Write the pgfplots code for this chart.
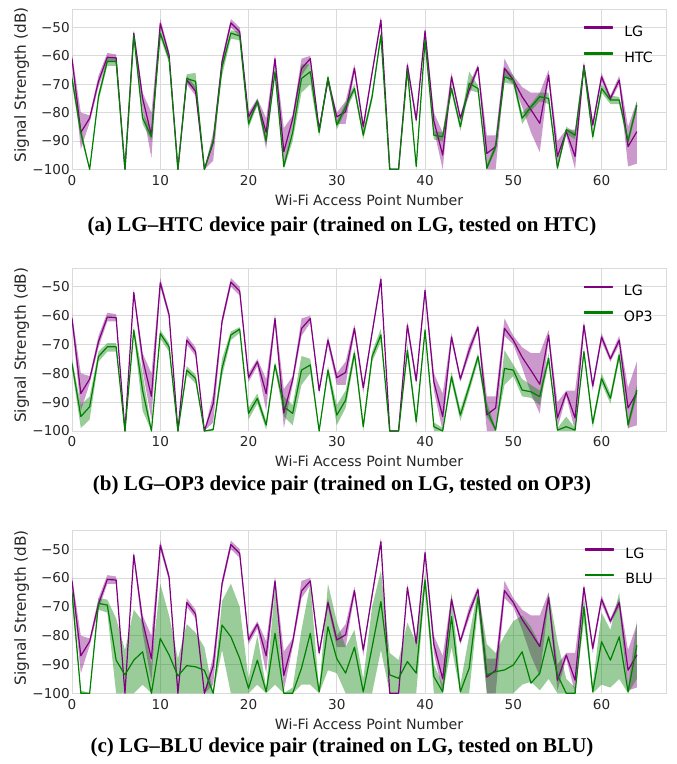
\documentclass[border=0pt]{standalone}
\usepackage{pgfplots}
\usepackage{pgfplotstable}
\pgfplotsset{compat=1.18}
\usepgfplotslibrary{fillbetween}
\usepackage{fontspec}
\setmainfont{DejaVu Sans}
\newfontfamily\capfont{Liberation Serif}
\definecolor{cpurple}{RGB}{128,0,128}
\definecolor{cgreen}{RGB}{0,128,0}
\definecolor{gridc}{RGB}{218,218,218}
\newcommand{\tickfont}{\fontsize{13.6}{16}\selectfont}
\newcommand{\labfont}{\fontsize{14.2}{17}\selectfont}
\newcommand{\ylabfont}{\fontsize{15.3}{18}\selectfont}
\newcommand{\capf}{\capfont\bfseries\fontsize{21}{25}\selectfont}

\pgfplotstableread{
x m u l
0 -61 -59.5 -62.5
1 -87 -80 -93
2 -82 -81 -83.5
3 -69 -67 -71
4 -60.5 -59 -62
5 -60.7 -59.5 -62
6 -100 -100 -100
7 -52 -51 -53
8 -75 -73 -79
9 -88 -80 -96
10 -48.6 -47 -50
11 -59.7 -58.5 -61
12 -100 -100 -100
13 -68.5 -67 -70
14 -72.5 -71 -74
15 -100 -100 -100
16 -90.5 -87 -97
17 -62 -60.5 -63.5
18 -48.4 -47 -50
19 -51.5 -50 -53
20 -81.5 -80 -83
21 -76 -75 -77.5
22 -87 -82 -93
23 -61 -59.5 -62.5
24 -93.8 -85.5 -99
25 -82.2 -81 -84
26 -64.5 -61 -67
27 -61 -60 -62.5
28 -86 -85 -87
29 -68.5 -67 -70
30 -81.5 -80 -84
31 -79.7 -76 -84
32 -64.4 -63 -66
33 -85 -84 -87
34 -66 -65 -67
35 -47.4 -46 -49
36 -100 -100 -100
37 -100 -100 -100
38 -63.3 -62 -65
39 -82.6 -81 -84
40 -51.2 -50 -52.5
41 -83 -80 -86
42 -95 -87 -100
43 -67.4 -66 -69
44 -82 -81 -83
45 -72 -70 -74
46 -64 -63 -65
47 -94.4 -88 -100
48 -92 -88 -100
49 -64.4 -61 -67
50 -68.5 -67 -70
51 -74.4 -71 -78
52 -79 -73 -87
53 -83.8 -73 -94
54 -66.8 -65 -68
55 -95.5 -90 -99
56 -86.7 -86 -88
57 -95.5 -86 -100
58 -63.3 -62 -65
59 -84.4 -83 -86
60 -67.4 -66 -69
61 -75 -74 -76
62 -68.5 -67 -70
63 -92 -85 -99
64 -86.7 -76 -98
}\LGtab

\pgfplotstableread{
x m u l
0 -68 -66 -70
1 -87 -85 -89
2 -100 -100 -100
3 -74.4 -73 -76
4 -62 -60.5 -63.5
5 -62 -60.5 -63.5
6 -100 -100 -100
7 -52.7 -51.5 -54
8 -82 -80 -84
9 -88.5 -86.5 -90
10 -52 -50.5 -53.5
11 -61 -60 -62.5
12 -100 -100 -100
13 -68 -66.5 -69.5
14 -69 -66 -72
15 -100 -100 -100
16 -90 -88.5 -91.5
17 -64 -62 -67
18 -52 -51 -54
19 -53 -51.5 -54.5
20 -84 -82.5 -85.5
21 -76 -75 -77.5
22 -90 -88.5 -91.5
23 -65.6 -64 -67
24 -99 -98 -100
25 -87 -84 -90
26 -68 -63 -73
27 -65.6 -63 -70
28 -87 -85.5 -88.5
29 -67.6 -66.5 -69
30 -84.4 -83 -86
31 -78 -76.5 -79.5
32 -71.5 -70 -73
33 -88 -86.5 -89.5
34 -74.4 -73 -76
35 -52.7 -51.5 -54
36 -100 -100 -100
37 -100 -100 -100
38 -65 -64 -66.5
39 -99 -98 -100
40 -54.5 -53.5 -56
41 -88 -86.5 -89.5
42 -88.5 -87 -90
43 -71.5 -70 -73
44 -85 -83.5 -86.5
45 -69.7 -65.5 -72
46 -71.5 -70.5 -73
47 -99.6 -98.5 -100
48 -92 -90.5 -93.5
49 -67.4 -64 -69.5
50 -68.5 -67 -70
51 -82 -80 -84
52 -78 -77 -79.5
53 -74.4 -73 -76
54 -75 -73 -77
55 -99.6 -98.5 -100
56 -86 -85 -87.5
57 -88 -87 -89.5
58 -64 -63 -65.5
59 -88.5 -87 -90
60 -71.5 -70 -73
61 -75.6 -74 -77
62 -75.6 -74.5 -77
63 -90 -88.5 -91.5
64 -77.4 -76 -79
}\HTCtab

\pgfplotstableread{
x m u l
0 -76.6 -75 -78.5
1 -95 -91 -99
2 -91.6 -88 -96
3 -74.2 -72.5 -76
4 -70.8 -69.5 -72.5
5 -70.8 -69.5 -72.5
6 -100 -100 -100
7 -65 -64 -66.5
8 -86 -80 -93
9 -100 -99 -100
10 -66.2 -65 -68
11 -70.8 -69.5 -72.5
12 -100 -100 -100
13 -78.9 -77.5 -80.5
14 -81.8 -80.5 -83.5
15 -100 -100 -100
16 -99.5 -99 -100
17 -78.3 -75 -81
18 -66.7 -65.5 -68.5
19 -64.7 -64 -66
20 -93.9 -92 -96
21 -88.7 -87 -90.5
22 -97.9 -96.5 -99.5
23 -77.1 -76 -78.5
24 -91.6 -88 -95
25 -93.9 -91 -98
26 -78.9 -74 -84
27 -77.1 -75 -80
28 -100 -99.5 -100
29 -78.9 -77.5 -80.5
30 -94.5 -91 -98
31 -89.3 -86 -92
32 -73 -71.5 -75
33 -98.5 -97 -100
34 -74.2 -72.5 -76
35 -66.7 -64.5 -69
36 -100 -100 -100
37 -100 -100 -100
38 -72 -70 -74
39 -96.8 -95 -98.5
40 -65 -64 -66.5
41 -98.5 -97 -100
42 -100 -99 -100
43 -81.2 -79.5 -83
44 -94.5 -92.5 -96.5
45 -84.6 -83 -86.5
46 -74.2 -73 -76
47 -92.7 -90 -95
48 -99.7 -99 -100
49 -78.3 -72 -84
50 -78.9 -77 -81
51 -85.8 -82 -88
52 -86.4 -84 -88.5
53 -88.1 -86 -91
54 -74.8 -73 -76.5
55 -99.7 -99 -100
56 -98.5 -95 -100
57 -99.7 -99 -100
58 -72.5 -71 -74
59 -97.3 -96 -99
60 -81.8 -80 -83.5
61 -88.7 -87 -90.5
62 -73.7 -72 -75.5
63 -97.9 -96.5 -99.5
64 -85.8 -84 -88
}\OPtab

\pgfplotstableread{
x m u l
0 -65 -62 -68
1 -100 -99 -100
2 -100 -100 -100
3 -68.8 -67 -71
4 -69.4 -67.5 -72
5 -88.5 -74 -100
6 -93.6 -85 -100
7 -88.5 -71 -100
8 -85.6 -75 -97
9 -100 -90 -100
10 -81 -62 -100
11 -86.7 -73 -100
12 -94 -88 -100
13 -90.4 -76 -100
14 -90.8 -79 -100
15 -92 -84 -100
16 -100 -100 -100
17 -76.3 -68 -85
18 -80.4 -62 -100
19 -87.9 -70 -100
20 -98.3 -95 -100
21 -88.5 -80 -97
22 -99.5 -98 -100
23 -79.2 -63 -97
24 -100 -100 -100
25 -100 -98 -100
26 -91.3 -78 -97
27 -79.2 -62 -97
28 -99.5 -99 -100
29 -76.9 -62 -92
30 -88 -75 -93
31 -93 -84 -100
32 -84 -78 -100
33 -99.5 -95 -100
34 -84 -70 -100
35 -68.2 -57.5 -85
36 -93.6 -86 -100
37 -94.8 -88.5 -100
38 -89 -75.5 -100
39 -93 -82.5 -100
40 -60.7 -58 -63
41 -94.2 -90 -100
42 -99.5 -97 -100
43 -73.4 -65 -84
44 -99.5 -97 -100
45 -91.3 -80 -100
46 -66.5 -64 -70
47 -93.6 -83 -100
48 -92.5 -86 -100
49 -91.9 -80 -100
50 -90.2 -75 -100
51 -85.6 -73 -97
52 -96.5 -77 -96
53 -93 -83 -99
54 -80.4 -65 -95
55 -93.6 -82 -100
56 -100 -95 -100
57 -100 -98 -100
58 -70 -66 -75
59 -99.5 -97 -100
60 -82.1 -72 -97
61 -88.5 -78 -98
62 -80.4 -65 -95
63 -99.5 -98 -100
64 -83.3 -75 -95
}\BLUtab

\pgfplotsset{
  panel/.style={
    scale only axis, width=594pt, anchor=north west,
    xmin=0, xmax=67.3, ymin=-100, ymax=-43.6,
    xtick={0,10,20,30,40,50,60},
    xticklabels={0,10,20,30,40,50,60},
    ytick={-100,-90,-80,-70,-60,-50},
    yticklabels={−100,−90,−80,−70,−60,−50},
    grid=major,
    major grid style={color=gridc, line width=0.8pt},
    axis line style={color=gridc, line width=1pt},
    major tick length=0pt,
    tick label style={font=\tickfont, text=black!85},
    xticklabel style={anchor=north, inner sep=0pt, yshift=-5.7pt},
    yticklabel style={anchor=east, inner sep=0pt, xshift=-2pt},
    xlabel={Wi-Fi Access Point Number},
    ylabel={Signal Strength (dB)},
    label style={text=black!85},
    xlabel style={font=\labfont, at={(axis description cs:0.5,0)}, anchor=base, yshift=-35.7pt},
    ylabel style={font=\ylabfont, at={(axis description cs:-0.0847,0.527)}, anchor=center},
    legend cell align=left,
    legend style={draw=none, fill=none, at={(0.978,0.8975)}, anchor=north east,
      inner sep=0pt, row sep=13.6pt, font=\labfont,
      nodes={inner sep=0pt},
      /tikz/every odd column/.append style={column sep=12pt}},
    every axis plot/.append style={line join=round},
  },
  plimg/.style={legend image code/.code={\fill[cpurple] (0pt,3.6pt) rectangle (28pt,5.4pt);}},
  glimg/.style={legend image code/.code={\fill[cgreen] (0pt,3.6pt) rectangle (28pt,5.4pt);}},
}

\begin{document}
\begin{tikzpicture}

% Panel (a)
\begin{axis}[panel, at={(72pt,-9.3pt)}, height=160pt]
\addplot[name path=au, draw=none, forget plot] table[x=x,y=u]{\LGtab};
\addplot[name path=al, draw=none, forget plot] table[x=x,y=l]{\LGtab};
\addplot[fill=cpurple, fill opacity=0.4, draw=none, forget plot] fill between[of=au and al];
\addplot[cpurple, line width=1.2pt, forget plot] table[x=x,y=m]{\LGtab};
\addplot[name path=bu, draw=none, forget plot] table[x=x,y=u]{\HTCtab};
\addplot[name path=bl, draw=none, forget plot] table[x=x,y=l]{\HTCtab};
\addplot[fill=cgreen, fill opacity=0.4, draw=none, forget plot] fill between[of=bu and bl];
\addplot[cgreen, line width=1.2pt, forget plot] table[x=x,y=m]{\HTCtab};
\addlegendimage{plimg}
\addlegendentry{LG}
\addlegendimage{glimg}
\addlegendentry{HTC}
\end{axis}
\node[anchor=base] at (342pt,-231pt) {\capf (a) LG–HTC device pair (trained on LG, tested on HTC)};

% Panel (b)
\begin{axis}[panel, at={(72pt,-268.3pt)}, height=162.7pt]
\addplot[name path=cu, draw=none, forget plot] table[x=x,y=u]{\LGtab};
\addplot[name path=cl, draw=none, forget plot] table[x=x,y=l]{\LGtab};
\addplot[fill=cpurple, fill opacity=0.4, draw=none, forget plot] fill between[of=cu and cl];
\addplot[cpurple, line width=1.2pt, forget plot] table[x=x,y=m]{\LGtab};
\addplot[name path=du, draw=none, forget plot] table[x=x,y=u]{\OPtab};
\addplot[name path=dl, draw=none, forget plot] table[x=x,y=l]{\OPtab};
\addplot[fill=cgreen, fill opacity=0.4, draw=none, forget plot] fill between[of=du and dl];
\addplot[cgreen, line width=1.2pt, forget plot] table[x=x,y=m]{\OPtab};
\addlegendimage{plimg}
\addlegendentry{LG}
\addlegendimage{glimg}
\addlegendentry{OP3}
\end{axis}
\node[anchor=base] at (342pt,-490pt) {\capf (b) LG–OP3 device pair (trained on LG, tested on OP3)};

% Panel (c)
\begin{axis}[panel, at={(72pt,-530.7pt)}, height=162.6pt]
\addplot[name path=eu, draw=none, forget plot] table[x=x,y=u]{\LGtab};
\addplot[name path=el, draw=none, forget plot] table[x=x,y=l]{\LGtab};
\addplot[fill=cpurple, fill opacity=0.4, draw=none, forget plot] fill between[of=eu and el];
\addplot[cpurple, line width=1.2pt, forget plot] table[x=x,y=m]{\LGtab};
\addplot[name path=fu, draw=none, forget plot] table[x=x,y=u]{\BLUtab};
\addplot[name path=fl, draw=none, forget plot] table[x=x,y=l]{\BLUtab};
\addplot[fill=cgreen, fill opacity=0.4, draw=none, forget plot] fill between[of=fu and fl];
\addplot[cgreen, line width=1.2pt, forget plot] table[x=x,y=m]{\BLUtab};
\addlegendimage{plimg}
\addlegendentry{LG}
\addlegendimage{glimg}
\addlegendentry{BLU}
\end{axis}
\node[anchor=base] at (342pt,-752.4pt) {\capf (c) LG–BLU device pair (trained on LG, tested on BLU)};

\pgfresetboundingbox
\useasboundingbox (0pt,0pt) rectangle (677pt,-764pt);
\end{tikzpicture}
\end{document}
